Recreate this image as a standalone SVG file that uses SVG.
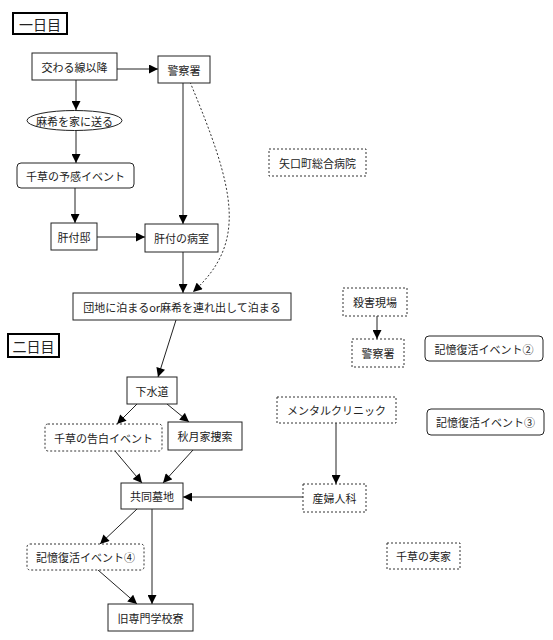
<svg xmlns="http://www.w3.org/2000/svg" width="553" height="640" viewBox="0 0 553 640">
<style>
  .box{fill:#fff;stroke:#222;stroke-width:1}
  .dash{fill:#fff;stroke:#333;stroke-width:1;stroke-dasharray:2,2}
  .title{fill:#fff;stroke:#000;stroke-width:2}
  text{font-family:"Noto Sans CJK JP","Noto Sans",sans-serif;font-size:11px;fill:#222;text-anchor:middle;dominant-baseline:central}
  .big{font-size:14px}
  .edge{fill:none;stroke:#222;stroke-width:1}
  .dot{fill:none;stroke:#333;stroke-width:1;stroke-dasharray:2,2}
</style>
<defs>
  <marker id="arr" viewBox="0 0 10 10" refX="10" refY="5" markerWidth="10" markerHeight="9" markerUnits="userSpaceOnUse" orient="auto">
    <path d="M0,0 L10,5 L0,10 z" fill="#000"/>
  </marker>
</defs>
<rect width="553" height="640" fill="#fff"/>
<g id="connectors">
  <path class="edge" d="M114,69 L158,69" marker-end="url(#arr)"/>
  <path class="edge" d="M76,80 L76,110" marker-end="url(#arr)"/>
  <path class="edge" d="M76,130 L76,163" marker-end="url(#arr)"/>
  <path class="edge" d="M75,188 L75,223" marker-end="url(#arr)"/>
  <path class="edge" d="M183,83 L183,224" marker-end="url(#arr)"/>
  <path class="edge" d="M95,237 L145,237" marker-end="url(#arr)"/>
  <path class="edge" d="M183,252 L183,293" marker-end="url(#arr)"/>
  <path class="dot" d="M190,82 C235,190 248,242 193,292" marker-end="url(#arr)"/>
  <path class="edge" d="M176,320 L158,377" marker-end="url(#arr)"/>
  <path class="edge" d="M137,404 L117,424" marker-end="url(#arr)"/>
  <path class="edge" d="M167,404 L189,422" marker-end="url(#arr)"/>
  <path class="edge" d="M115,451 L142,483" marker-end="url(#arr)"/>
  <path class="edge" d="M193,450 L163,483" marker-end="url(#arr)"/>
  <path class="edge" d="M303,497 L183,497" marker-end="url(#arr)"/>
  <path class="edge" d="M137,509 L100,544" marker-end="url(#arr)"/>
  <path class="edge" d="M152,509 L152,604" marker-end="url(#arr)"/>
  <path class="edge" d="M98,570 L137,604" marker-end="url(#arr)"/>
  <path class="edge" d="M377,316 L377,339" marker-end="url(#arr)"/>
  <path class="edge" d="M336,423 L336,484" marker-end="url(#arr)"/>
</g>
<g id="day1"><rect class="title" x="13" y="13" width="54" height="21"/><text class="big" x="40" y="23.5">一日目</text></g>
<g id="day2"><rect class="title" x="8" y="334" width="51" height="23"/><text class="big" x="33.5" y="345.5">二日目</text></g>
<g id="n1"><rect class="box" x="32" y="53" width="85" height="27"/><text x="74.5" y="66.5">交わる線以降</text></g>
<g id="n2"><rect class="box" x="158" y="56" width="52" height="27"/><text x="184" y="69.5">警察署</text></g>
<g id="n3"><ellipse class="box" cx="74.5" cy="120.5" rx="47.5" ry="10"/><text x="74.5" y="120.5">麻希を家に送る</text></g>
<g id="n4"><rect class="box" x="17" y="163" width="117" height="25" rx="4"/><text x="75.5" y="175.5">千草の予感イベント</text></g>
<g id="n5"><rect class="box" x="51" y="223" width="46" height="27"/><text x="74" y="236.5">肝付邸</text></g>
<g id="n6"><rect class="box" x="145" y="224" width="73" height="28"/><text x="181.5" y="238">肝付の病室</text></g>
<g id="n7"><rect class="box" x="73" y="293" width="218" height="27"/><text x="182" y="306.5">団地に泊まるor麻希を連れ出して泊まる</text></g>
<g id="n8"><rect class="dash" x="269" y="149" width="97" height="27"/><text x="317.5" y="162.5">矢口町総合病院</text></g>
<g id="n9"><rect class="dash" x="343" y="288" width="64" height="28"/><text x="375" y="302">殺害現場</text></g>
<g id="n10"><rect class="dash" x="352" y="339" width="52" height="28"/><text x="378" y="353">警察署</text></g>
<g id="n11"><rect class="box" x="425" y="336" width="118" height="25" rx="4"/><text x="484" y="348.5">記憶復活イベント②</text></g>
<g id="n12"><rect class="dash" x="277" y="397" width="119" height="26"/><text x="336.5" y="410">メンタルクリニック</text></g>
<g id="n13"><rect class="box" x="427" y="409" width="117" height="26" rx="4"/><text x="485.5" y="422">記憶復活イベント③</text></g>
<g id="n14"><rect class="box" x="127" y="377" width="50" height="27"/><text x="152" y="390.5">下水道</text></g>
<g id="n15"><rect class="dash" x="45" y="424" width="117" height="27" rx="3"/><text x="103.5" y="437.5">千草の告白イベント</text></g>
<g id="n16"><rect class="box" x="168" y="422" width="74" height="28"/><text x="205" y="436">秋月家捜索</text></g>
<g id="n17"><rect class="box" x="121" y="483" width="62" height="26"/><text x="152" y="496">共同墓地</text></g>
<g id="n18"><rect class="dash" x="303" y="484" width="63" height="28"/><text x="334.5" y="498">産婦人科</text></g>
<g id="n19"><rect class="dash" x="27" y="544" width="117" height="26" rx="3"/><text x="85.5" y="557">記憶復活イベント④</text></g>
<g id="n20"><rect class="dash" x="387" y="543" width="73" height="26"/><text x="423.5" y="556">千草の実家</text></g>
<g id="n21"><rect class="box" x="108" y="604" width="85" height="27"/><text x="150.5" y="617.5">旧専門学校寮</text></g>
</svg>
